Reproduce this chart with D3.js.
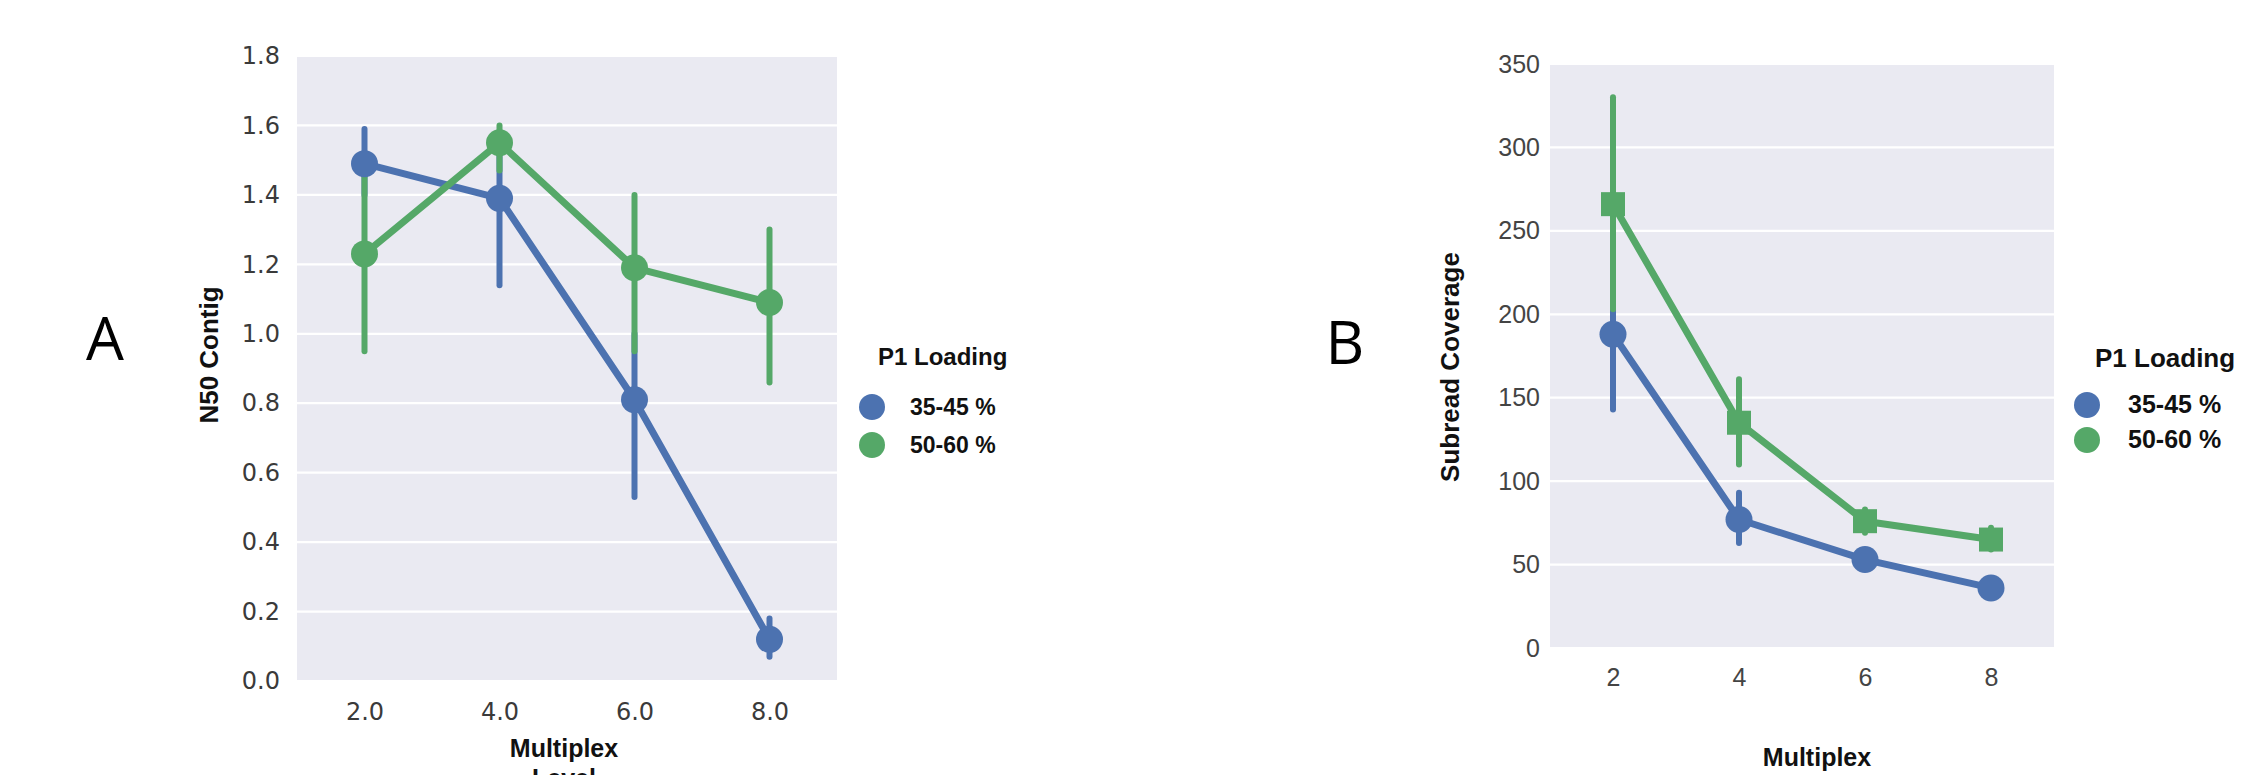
<!DOCTYPE html>
<html>
<head>
<meta charset="utf-8">
<script src="https://cdn.jsdelivr.net/npm/d3@7"></script>
<style>
  body { margin: 0; background: #fff; }
  svg { display: block; }
</style>
</head>
<body>
<svg id="chart" width="2244" height="775"></svg>
<script>
// categories
const multiplex = [2, 4, 6, 8]
const loadingLevels = ['35-45 %', '50-60 %']

// panel A : N50 contig
const n50Low = [1.49, 1.39, 0.81, 0.12]
const n50LowCI = [[1.40, 1.59], [1.14, 1.55], [0.53, 1.00], [0.07, 0.18]]
const n50High = [1.23, 1.55, 1.19, 1.09]
const n50HighCI = [[0.95, 1.50], [1.47, 1.60], [0.95, 1.40], [0.86, 1.30]]
const n50Ticks = [0, 0.2, 0.4, 0.6, 0.8, 1.0, 1.2, 1.4, 1.6, 1.8]

// panel B : subread coverage
const covLow = [188, 77, 53, 36]
const covLowCI = [[143, 203], [63, 93], [50, 56], [33, 40]]
const covHigh = [266, 135, 76, 65]
const covHighCI = [[203, 330], [110, 161], [69, 83], [59, 72]]
const covTicks = [0, 50, 100, 150, 200, 250, 300, 350]

const BLUE = '#4c72b0'
const GREEN = '#55a868'

const svg = d3.select('#chart')

/**
 * one seaborn-like point plot
 */
function pointPanel (opt) {
  const xScale = d3.scalePoint()
    .domain(multiplex)
    .range([opt.left, opt.right])
    .padding(0.5)
  const yScale = d3.scaleLinear()
    .domain(opt.yDomain)
    .range([opt.bottom, opt.top])

  const g = svg.append('g')

  // grey background + white grid
  g.append('rect')
    .attr('x', opt.left)
    .attr('y', opt.top)
    .attr('width', opt.right - opt.left)
    .attr('height', opt.bottom - opt.top)
    .attr('fill', '#eaeaf2')
  g.selectAll('.grid')
    .data(opt.ticks)
    .join('line')
    .attr('x1', opt.left)
    .attr('x2', opt.right)
    .attr('y1', d => yScale(d))
    .attr('y2', d => yScale(d))
    .attr('stroke', '#fff')
    .attr('stroke-width', 2.2)

  // axes, no domain lines
  const yAxis = d3.axisLeft(yScale)
    .tickValues(opt.ticks)
    .tickSize(0)
    .tickPadding(opt.yPad)
    .tickFormat(opt.yFormat)
  const xAxis = d3.axisBottom(xScale)
    .tickSize(0)
    .tickPadding(opt.xPad)
    .tickFormat(opt.xFormat)
  const ya = g.append('g')
    .attr('transform', `translate(${opt.left},0)`)
    .call(yAxis)
  const xa = g.append('g')
    .attr('transform', `translate(0,${opt.bottom})`)
    .call(xAxis)
  ;[ya, xa].forEach(a => {
    a.select('.domain').remove()
    a.selectAll('text')
      .attr('font-family', opt.tickFont)
      .attr('font-size', opt.tickSize)
      .attr('fill', opt.tickColor)
  })

  const line = d3.line()
    .x((d, i) => xScale(multiplex[i]))
    .y(d => yScale(d))

  // lines and error bars first, points on top
  opt.series.forEach(s => {
    g.append('path')
      .datum(s.values)
      .attr('d', line)
      .attr('fill', 'none')
      .attr('stroke', s.color)
      .attr('stroke-width', 7)
      .attr('stroke-linejoin', 'round')
    g.selectAll(null)
      .data(s.ci)
      .join('line')
      .attr('x1', (d, i) => xScale(multiplex[i]))
      .attr('x2', (d, i) => xScale(multiplex[i]))
      .attr('y1', d => yScale(d[0]))
      .attr('y2', d => yScale(d[1]))
      .attr('stroke', s.color)
      .attr('stroke-width', 6)
      .attr('stroke-linecap', 'round')
  })
  opt.series.forEach(s => {
    if (s.shape === 'square') {
      g.selectAll(null)
        .data(s.values)
        .join('rect')
        .attr('x', (d, i) => xScale(multiplex[i]) - 12)
        .attr('y', d => yScale(d) - 12)
        .attr('width', 24)
        .attr('height', 24)
        .attr('fill', s.color)
    } else {
      g.selectAll(null)
        .data(s.values)
        .join('circle')
        .attr('cx', (d, i) => xScale(multiplex[i]))
        .attr('cy', d => yScale(d))
        .attr('r', 13.5)
        .attr('fill', s.color)
    }
  })

  // axis titles
  opt.xTitle.forEach((t, i) => {
    g.append('text')
      .attr('x', opt.xTitleX)
      .attr('y', opt.xTitleY + i * 30)
      .attr('text-anchor', 'middle')
      .attr('font-family', 'Liberation Sans, Arial, sans-serif')
      .attr('font-weight', 'bold')
      .attr('font-size', 25)
      .attr('fill', '#111')
      .text(t)
  })
  g.append('text')
    .attr('transform', `translate(${opt.yTitleX},${opt.yTitleY}) rotate(-90)`)
    .attr('text-anchor', 'middle')
    .attr('font-family', 'Liberation Sans, Arial, sans-serif')
    .attr('font-weight', 'bold')
    .attr('font-size', 26)
    .attr('fill', '#111')
    .text(opt.yTitle)

  // panel letter
  svg.append('text')
    .attr('x', opt.letterX)
    .attr('y', opt.letterY)
    .attr('text-anchor', 'middle')
    .attr('font-family', 'Open Sans, sans-serif')
    .attr('font-weight', 400)
    .attr('font-size', 60)
    .attr('fill', '#000')
    .text(opt.letter)

  // legend
  const lg = svg.append('g')
  lg.append('text')
    .attr('x', opt.legend.x)
    .attr('y', opt.legend.y)
    .attr('font-family', 'Liberation Sans, Arial, sans-serif')
    .attr('font-weight', 'bold')
    .attr('font-size', opt.legend.size)
    .attr('fill', '#111')
    .text('P1 Loading')
  loadingLevels.forEach((lvl, i) => {
    const cy = opt.legend.y + opt.legend.first + i * opt.legend.step
    lg.append('circle')
      .attr('cx', opt.legend.mx)
      .attr('cy', cy)
      .attr('r', 13)
      .attr('fill', opt.series[i].color)
    lg.append('text')
      .attr('x', opt.legend.tx)
      .attr('y', cy + 8)
      .attr('font-family', 'Liberation Sans, Arial, sans-serif')
      .attr('font-weight', 'bold')
      .attr('font-size', opt.legend.size - 1)
      .attr('fill', '#111')
      .text(lvl)
  })
}

pointPanel({
  left: 297,
  right: 837,
  top: 56,
  bottom: 681,
  yDomain: [0, 1.8],
  ticks: n50Ticks,
  yFormat: d3.format('.1f'),
  xFormat: d3.format('.1f'),
  yPad: 17,
  xPad: 22,
  tickFont: 'DejaVu Sans, sans-serif',
  tickSize: 24,
  tickColor: '#3a3a3a',
  series: [
    { values: n50Low, ci: n50LowCI, color: BLUE, shape: 'circle' },
    { values: n50High, ci: n50HighCI, color: GREEN, shape: 'circle' }
  ],
  xTitle: ['Multiplex', 'Level'],
  xTitleX: 564,
  xTitleY: 757,
  yTitle: 'N50 Contig',
  yTitleX: 218,
  yTitleY: 355,
  letter: 'A',
  letterX: 105,
  letterY: 360,
  legend: { x: 878, y: 365, size: 24, first: 42, step: 38, mx: 872, tx: 910 }
})

pointPanel({
  left: 1550,
  right: 2054,
  top: 64,
  bottom: 648,
  yDomain: [0, 350],
  ticks: covTicks,
  yFormat: d3.format('d'),
  xFormat: d3.format('d'),
  yPad: 10,
  xPad: 20,
  tickFont: 'Liberation Sans, Arial, sans-serif',
  tickSize: 25,
  tickColor: '#444',
  series: [
    { values: covLow, ci: covLowCI, color: BLUE, shape: 'circle' },
    { values: covHigh, ci: covHighCI, color: GREEN, shape: 'square' }
  ],
  xTitle: ['Multiplex'],
  xTitleX: 1817,
  xTitleY: 766,
  yTitle: 'Subread Coverage',
  yTitleX: 1459,
  yTitleY: 367,
  letter: 'B',
  letterX: 1345,
  letterY: 364,
  legend: { x: 2095, y: 367, size: 26, first: 38, step: 35, mx: 2087, tx: 2128 }
})
</script>
</body>
</html>
